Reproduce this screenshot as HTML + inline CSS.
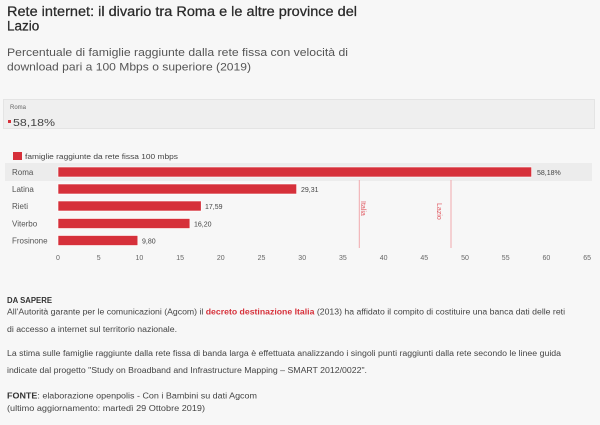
<!DOCTYPE html>
<html>
<head>
<meta charset="utf-8">
<style>
  html,body{margin:0;padding:0;background:#f7f7f7;}
  svg{display:block;}
  text{font-family:"Liberation Sans", sans-serif;}
</style>
</head>
<body>
<svg width="600" height="425" viewBox="0 0 600 425" xmlns="http://www.w3.org/2000/svg">
  <rect x="0" y="0" width="600" height="425" fill="#f7f7f7"/>

  <!-- Title -->
  <text x="7" y="16" font-size="13.5" fill="#2a2a2a" stroke="#2a2a2a" stroke-width="0.25" textLength="350" lengthAdjust="spacingAndGlyphs">Rete internet: il divario tra Roma e le altre province del</text>
  <text x="7" y="30.5" font-size="13.5" fill="#2a2a2a" stroke="#2a2a2a" stroke-width="0.25">Lazio</text>

  <!-- Subtitle -->
  <text x="7" y="56" font-size="11.3" fill="#555" textLength="341" lengthAdjust="spacingAndGlyphs">Percentuale di famiglie raggiunte dalla rete fissa con velocità di</text>
  <text x="7" y="70.5" font-size="11.3" fill="#555" textLength="244" lengthAdjust="spacingAndGlyphs">download pari a 100 Mbps o superiore (2019)</text>

  <!-- Tooltip box -->
  <rect x="3.5" y="99.5" width="591" height="29" fill="#efefef" stroke="#e4e4e4" stroke-width="1"/>
  <text x="10" y="109" font-size="6" fill="#666">Roma</text>
  <rect x="8" y="120" width="3" height="3" fill="#d6303a"/>
  <text x="13" y="126" font-size="10" fill="#444" textLength="42" lengthAdjust="spacingAndGlyphs">58,18%</text>

  <!-- Legend -->
  <rect x="13" y="152" width="9" height="8" fill="#d6303a"/>
  <text x="25" y="159" font-size="7.5" fill="#444" textLength="153" lengthAdjust="spacingAndGlyphs">famiglie raggiunte da rete fissa 100 mbps</text>

  <!-- Roma highlight band -->
  <rect x="5" y="163" width="587" height="18" fill="#ececec"/>

  <!-- Plot lines -->
  <line x1="359.3" y1="180" x2="359.3" y2="248" stroke="#f0a9ae" stroke-width="1"/>
  <line x1="451" y1="180" x2="451" y2="248" stroke="#f0a9ae" stroke-width="1"/>
  <text transform="translate(361,201) rotate(90)" font-size="7" fill="#e05a62">Italia</text>
  <text transform="translate(437,203) rotate(90)" font-size="7" fill="#e05a62">Lazio</text>

  <!-- Bars -->
  <g fill="#d6303a" stroke="#ffffff" stroke-width="0.6">
    <rect x="58" y="167" width="473.6" height="10"/>
    <rect x="58" y="184" width="238.6" height="10"/>
    <rect x="58" y="201" width="143.2" height="10"/>
    <rect x="58" y="218.5" width="131.9" height="10"/>
    <rect x="58" y="235.5" width="79.8" height="10"/>
  </g>

  <!-- Category labels -->
  <g font-size="8" fill="#555">
    <text x="12" y="175">Roma</text>
    <text x="12" y="192">Latina</text>
    <text x="12" y="209">Rieti</text>
    <text x="12" y="226.5">Viterbo</text>
    <text x="12" y="243.5">Frosinone</text>
  </g>

  <!-- Value labels -->
  <g font-size="7" fill="#444">
    <text x="537" y="175">58,18%</text>
    <text x="301" y="192">29,31</text>
    <text x="205" y="209">17,59</text>
    <text x="194" y="226.5">16,20</text>
    <text x="142" y="243.5">9,80</text>
  </g>

  <!-- X axis labels -->
  <g font-size="7" fill="#666" text-anchor="middle">
    <text x="58" y="260">0</text>
    <text x="98.7" y="260">5</text>
    <text x="139.4" y="260">10</text>
    <text x="180.1" y="260">15</text>
    <text x="220.8" y="260">20</text>
    <text x="261.5" y="260">25</text>
    <text x="302.2" y="260">30</text>
    <text x="342.9" y="260">35</text>
    <text x="383.6" y="260">40</text>
    <text x="424.3" y="260">45</text>
    <text x="465" y="260">50</text>
    <text x="505.7" y="260">55</text>
    <text x="546.4" y="260">60</text>
    <text x="587.1" y="260">65</text>
  </g>

  <!-- Bottom notes -->
  <text x="7" y="303" font-size="8" font-weight="bold" fill="#333" textLength="45" lengthAdjust="spacingAndGlyphs">DA SAPERE</text>
  <text x="7" y="314.5" font-size="8" fill="#444" textLength="558" lengthAdjust="spacingAndGlyphs">All'Autorità garante per le comunicazioni (Agcom) il <tspan fill="#d6303a" font-weight="bold">decreto destinazione Italia</tspan> (2013) ha affidato il compito di costituire una banca dati delle reti</text>
  <text x="7" y="332" font-size="8" fill="#444" textLength="170" lengthAdjust="spacingAndGlyphs">di accesso a internet sul territorio nazionale.</text>
  <text x="7" y="356" font-size="8" fill="#444" textLength="554" lengthAdjust="spacingAndGlyphs">La stima sulle famiglie raggiunte dalla rete fissa di banda larga è effettuata analizzando i singoli punti raggiunti dalla rete secondo le linee guida</text>
  <text x="7" y="373" font-size="8" fill="#444" textLength="360" lengthAdjust="spacingAndGlyphs">indicate dal progetto "Study on Broadband and Infrastructure Mapping – SMART 2012/0022".</text>
  <text x="7" y="398.5" font-size="8" fill="#444" textLength="250" lengthAdjust="spacingAndGlyphs"><tspan font-weight="bold" fill="#333">FONTE</tspan>: elaborazione openpolis - Con i Bambini su dati Agcom</text>
  <text x="7" y="411" font-size="8" fill="#444" textLength="198" lengthAdjust="spacingAndGlyphs">(ultimo aggiornamento: martedì 29 Ottobre 2019)</text>
</svg>
</body>
</html>
